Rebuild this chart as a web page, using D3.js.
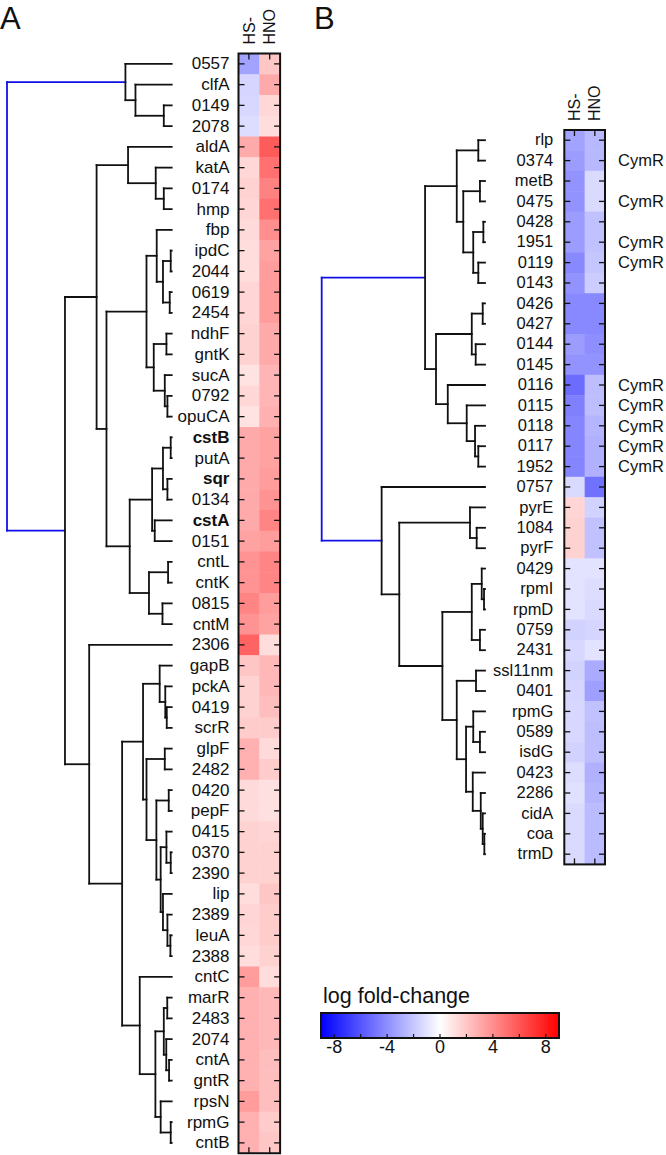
<!DOCTYPE html>
<html>
<head>
<meta charset="utf-8">
<script src="https://d3js.org/d3.v7.min.js"></script>
<style>
  body { margin: 0; background: #fff; }
  svg { display: block; }
  text { font-family: "Liberation Sans", Arial, sans-serif; fill: #111; }
</style>
</head>
<body>
<div id="chart"></div>
<script>
// ---- data ----
const columns = ["HS-", "HNO"];

const genesA = ["0557","clfA","0149","2078","aldA","katA","0174","hmp","fbp","ipdC","2044","0619","2454",
  "ndhF","gntK","sucA","0792","opuCA","cstB","putA","sqr","0134","cstA","0151","cntL","cntK","0815","cntM",
  "2306","gapB","pckA","0419","scrR","glpF","2482","0420","pepF","0415","0370","2390","lip","2389","leuA",
  "2388","cntC","marR","2483","2074","cntA","gntR","rpsN","rpmG","cntB"];
const boldA = ["cstB", "sqr", "cstA"];

const hsA = [-3.3,-1.5,-1.4,-1.2,
  3.0,1.4,1.6,1.5,1.3,1.2,1.2,1.5,1.5,1.6,1.6,1.0,1.4,1.0,
  3.0,3.0,3.0,3.0,3.0,3.3,3.8,3.8,4.3,3.8,
  5.5,
  2.0,1.6,1.6,1.8,2.8,2.8,1.3,1.3,1.6,1.6,1.6,1.2,1.5,1.4,1.2,
  3.5,2.8,2.8,2.8,2.8,2.8,3.5,2.8,2.8];
const hnoA = [2.0,3.0,1.4,1.2,
  5.8,5.0,4.4,5.0,4.0,3.3,3.5,3.5,3.5,3.0,3.0,2.6,2.6,2.8,
  3.3,3.3,3.5,3.8,4.3,3.5,4.3,4.3,3.5,3.3,
  1.2,
  2.5,2.5,2.3,1.8,1.3,1.8,1.1,1.1,1.5,1.6,1.6,2.0,1.8,1.8,1.6,
  1.2,2.5,2.5,2.5,2.3,2.3,2.3,1.8,2.0];

// dendrogram: [merge height, left, right]; leaves are gene names
const treeA = [1.0,
  [0.281, "0557", [0.220, "clfA", [0.048, "0149", "2078"]]],
  [0.648,
    [0.456,
      [0.265, "aldA", [0.097, "katA", [0.048, "0174", "hmp"]]],
      [0.396,
        [0.153,
          [0.091, "fbp", [0.053, [0.006, "ipdC", "2044"], [0.012, "0619", "2454"]]],
          [0.109, [0.032, "ndhF", "gntK"], [0.042, "sucA", [0.026, "0792", "opuCA"]]]],
        [0.255,
          [0.119, [0.053, [0.006, "cstB", "putA"], [0.026, "sqr", "0134"]], [0.103, "cstA", "0151"]],
          [0.138, [0.022, "cntL", "cntK"], [0.056, "0815", "cntM"]]]]],
    [0.501, "2306",
      [0.301,
        [0.174,
          [0.073, "gapB", [0.039, "pckA", [0.030, "0419", "scrR"]]],
          [0.153, [0.042, "glpF", "2482"],
            [0.093, [0.018, "0420", "pepF"],
              [0.067, [0.032, "0415", [0.006, "0370", "2390"]],
                [0.053, "lip", [0.026, "2389", [0.008, "leuA", "2388"]]]]]]],
        [0.194, "cntC",
          [0.099,
            [0.048, [0.027, "marR", "2483"], [0.033, "2074", [0.016, "cntA", "gntR"]]],
            [0.067, "rpsN", [0.006, "rpmG", "cntB"]]]]]]]];

const genesB = ["rlp","0374","metB","0475","0428","1951","0119","0143","0426","0427","0144","0145",
  "0116","0115","0118","0117","1952","0757","pyrE","1084","pyrF","0429","rpmI","rpmD","0759","2431",
  "ssl11nm","0401","rpmG","0589","isdG","0423","2286","cidA","coa","trmD"];
const cymR = ["0374","0475","1951","0119","0116","0115","0118","0117","1952"];

const hsB = [-3.3,-3.5,-3.8,-3.8,-3.5,-3.5,-4.2,-3.8,-4.2,-4.2,-3.5,-3.8,
  -5.2,-4.5,-4.3,-4.3,-4.3,-1.3,1.5,1.6,1.6,-1.0,-1.0,-1.0,-1.6,-1.4,
  -1.6,-1.5,-1.4,-1.4,-1.6,-1.2,-1.1,-1.3,-1.3,-1.3];
const hnoB = [-2.5,-2.5,-1.3,-1.3,-2.2,-2.2,-2.0,-1.8,-4.2,-4.2,-4.0,-3.8,
  -2.3,-2.3,-2.6,-2.8,-2.8,-5.0,-1.6,-2.2,-2.2,-1.0,-1.2,-1.3,-1.5,-1.0,
  -3.0,-3.4,-2.2,-2.3,-2.3,-2.8,-2.6,-2.4,-2.4,-2.4];

const treeB = [1.0,
  [0.367,
    [0.173, [0.041, "rlp", "0374"],
      [0.133, [0.031, "metB", "0475"], [0.072, [0.010, "0428", "1951"], [0.041, "0119", "0143"]]]],
    [0.300,
      [0.081, [0.014, "0426", "0427"], [0.057, "0144", "0145"]],
      [0.228, "0116", [0.112, "0115", [0.061, "0118", [0.041, "0117", "1952"]]]]]],
  [0.633, "0757",
    [0.525,
      [0.092, "pyrE", [0.051, "1084", "pyrF"]],
      [0.261,
        [0.081, [0.020, "0429", [0.006, "rpmI", "rpmD"]], [0.031, "0759", "2431"]],
        [0.173, [0.055, "ssl11nm", "0401"],
          [0.116, [0.072, "rpmG", [0.031, "0589", "isdG"]],
            [0.075, "0423", [0.026, "2286", [0.014, "cidA", [0.004, "coa", "trmD"]]]]]]]]]];

const legendTicks = [-8, -6, -4, -2, 0, 2, 4, 6, 8];
const legendLabels = [-8, -4, 0, 4, 8];
const legendDomain = [-9, 9];

// ---- drawing ----
const W = 666, H = 1155;
const svg = d3.select('#chart').append('svg').attr('width', W).attr('height', H);

const color = d3.scaleLinear().domain([legendDomain[0], 0, legendDomain[1]])
  .range(["#0000ff", "#ffffff", "#ff0000"]);

function drawPanel(cfg) {
  const g = svg.append('g');
  const y = d3.scaleBand().domain(cfg.genes).range([cfg.top, cfg.top + cfg.genes.length * cfg.rowH]);
  const x = d3.scaleBand().domain(columns).range([cfg.left, cfg.left + 2 * cfg.colW]);
  const yc = d => y(d) + y.bandwidth() / 2;

  // heatmap cells
  const cells = [];
  cfg.genes.forEach((gname, i) => {
    cells.push({ gene: gname, col: "HS-", v: cfg.hs[i] });
    cells.push({ gene: gname, col: "HNO", v: cfg.hno[i] });
  });
  g.selectAll('rect.cell').data(cells).join('rect')
    .attr('class', 'cell')
    .attr('x', d => x(d.col)).attr('y', d => y(d.gene))
    .attr('width', x.bandwidth() + 0.5).attr('height', y.bandwidth() + 0.5)
    .attr('fill', d => color(d.v));

  const x0 = cfg.left, x1 = cfg.left + 2 * cfg.colW;
  const y0 = cfg.top, y1 = cfg.top + cfg.genes.length * cfg.rowH;

  // inward ticks on the frame
  const tk = 6;
  const tickAxes = [
    g.append('g').attr('transform', `translate(${x0},0)`).call(d3.axisRight(y).tickSize(tk).tickFormat('')),
    g.append('g').attr('transform', `translate(${x1},0)`).call(d3.axisLeft(y).tickSize(tk).tickFormat('')),
    g.append('g').attr('transform', `translate(0,${y0})`).call(d3.axisBottom(x).tickSize(tk).tickFormat('')),
    g.append('g').attr('transform', `translate(0,${y1})`).call(d3.axisTop(x).tickSize(tk).tickFormat(''))
  ];
  tickAxes.forEach(a => {
    a.select('.domain').remove();
    a.selectAll('line').attr('stroke', '#111').attr('stroke-width', 1.3);
  });
  g.append('rect').attr('x', x0).attr('y', y0).attr('width', x1 - x0).attr('height', y1 - y0)
    .attr('fill', 'none').attr('stroke', '#111').attr('stroke-width', 2);

  // row labels
  const labels = g.append('g').attr('transform', `translate(${x0 - cfg.labelGap},0)`)
    .call(d3.axisLeft(y).tickSize(0).tickPadding(0));
  labels.select('.domain').remove();
  labels.selectAll('text')
    .attr('font-size', cfg.fontSize).attr('fill', '#111')
    .attr('font-family', '"Liberation Sans", Arial, sans-serif')
    .attr('font-weight', d => (cfg.bold || []).includes(d) ? 'bold' : 'normal');

  // column labels
  g.selectAll('text.col').data(columns).join('text')
    .attr('class', 'col')
    .attr('transform', d => `translate(${x(d) + x.bandwidth() / 2},${y0 - 9}) rotate(-90)`)
    .attr('dy', '0.35em').attr('font-size', 16).text(d => d);

  // side labels
  if (cfg.side) {
    g.selectAll('text.side').data(cfg.side.genes).join('text')
      .attr('class', 'side')
      .attr('x', cfg.side.x).attr('y', d => yc(d)).attr('dy', '0.35em')
      .attr('font-size', cfg.fontSize).text(cfg.side.text);
  }

  // dendrogram
  const xd = d3.scaleLinear().domain([0, 1]).range([cfg.leafX, cfg.rootX]);
  const root = d3.hierarchy(cfg.tree, d => Array.isArray(d) ? d.slice(1) : null);
  root.eachAfter(n => {
    n.h = Array.isArray(n.data) ? n.data[0] : 0;
    n.py = n.children ? d3.mean(n.children, c => c.py) : yc(n.data);
  });
  const segs = [];
  root.each(n => {
    if (!n.children) return;
    const blue = n.depth === 0;
    segs.push({ x1: xd(n.h), y1: n.children[0].py, x2: xd(n.h), y2: n.children[1].py, blue });
    n.children.forEach(c => segs.push({ x1: xd(n.h), y1: c.py, x2: xd(c.h), y2: c.py, blue }));
  });
  g.append('g').selectAll('line').data(segs).join('line')
    .attr('x1', d => d.x1).attr('y1', d => d.y1).attr('x2', d => d.x2).attr('y2', d => d.y2)
    .attr('stroke', d => d.blue ? '#1010e8' : '#111')
    .attr('stroke-width', 1.8).attr('stroke-linecap', 'square');

  g.append('text').attr('x', cfg.letter[0]).attr('y', cfg.letter[1])
    .attr('font-size', 31).text(cfg.letter[2]);
}

drawPanel({
  genes: genesA, hs: hsA, hno: hnoA, tree: treeA, bold: boldA,
  top: 53.5, rowH: 20.75, left: 238.5, colW: 20.8,
  labelGap: 9, fontSize: 17, leafX: 171.7, rootX: 7,
  letter: [0, 29, "A"]
});

drawPanel({
  genes: genesB, hs: hsB, hno: hnoB, tree: treeB,
  top: 130, rowH: 20.4, left: 564.3, colW: 20.35,
  labelGap: 11, fontSize: 16.5, leafX: 485, rootX: 321.7,
  side: { genes: cymR, x: 618, text: "CymR" },
  letter: [314, 29, "B"]
});

// colour legend
const lg = svg.append('g');
const lx = d3.scaleLinear().domain(legendDomain).range([321, 559]);
const lTop = 1013, lH = 25;
const grad = svg.append('defs').append('linearGradient').attr('id', 'lfc');
grad.selectAll('stop').data(d3.range(0, 1.0001, 0.05)).join('stop')
  .attr('offset', d => d)
  .attr('stop-color', d => color(legendDomain[0] + d * (legendDomain[1] - legendDomain[0])));
lg.append('rect').attr('x', lx(legendDomain[0])).attr('y', lTop)
  .attr('width', lx(legendDomain[1]) - lx(legendDomain[0])).attr('height', lH)
  .attr('fill', 'url(#lfc)').attr('stroke', '#111').attr('stroke-width', 2);
lg.selectAll('line.lt').data(legendTicks).join('line')
  .attr('class', 'lt')
  .attr('x1', d => lx(d)).attr('x2', d => lx(d))
  .attr('y1', lTop + lH).attr('y2', lTop + lH - 4)
  .attr('stroke', '#111').attr('stroke-width', 1.2);
lg.selectAll('text.ll').data(legendLabels).join('text')
  .attr('class', 'll')
  .attr('x', d => lx(d)).attr('y', 1053).attr('text-anchor', 'middle')
  .attr('font-size', 18).text(d => d);
lg.append('text').attr('x', 323).attr('y', 1003).attr('font-size', 21.5).text('log fold-change');
</script>
</body>
</html>
